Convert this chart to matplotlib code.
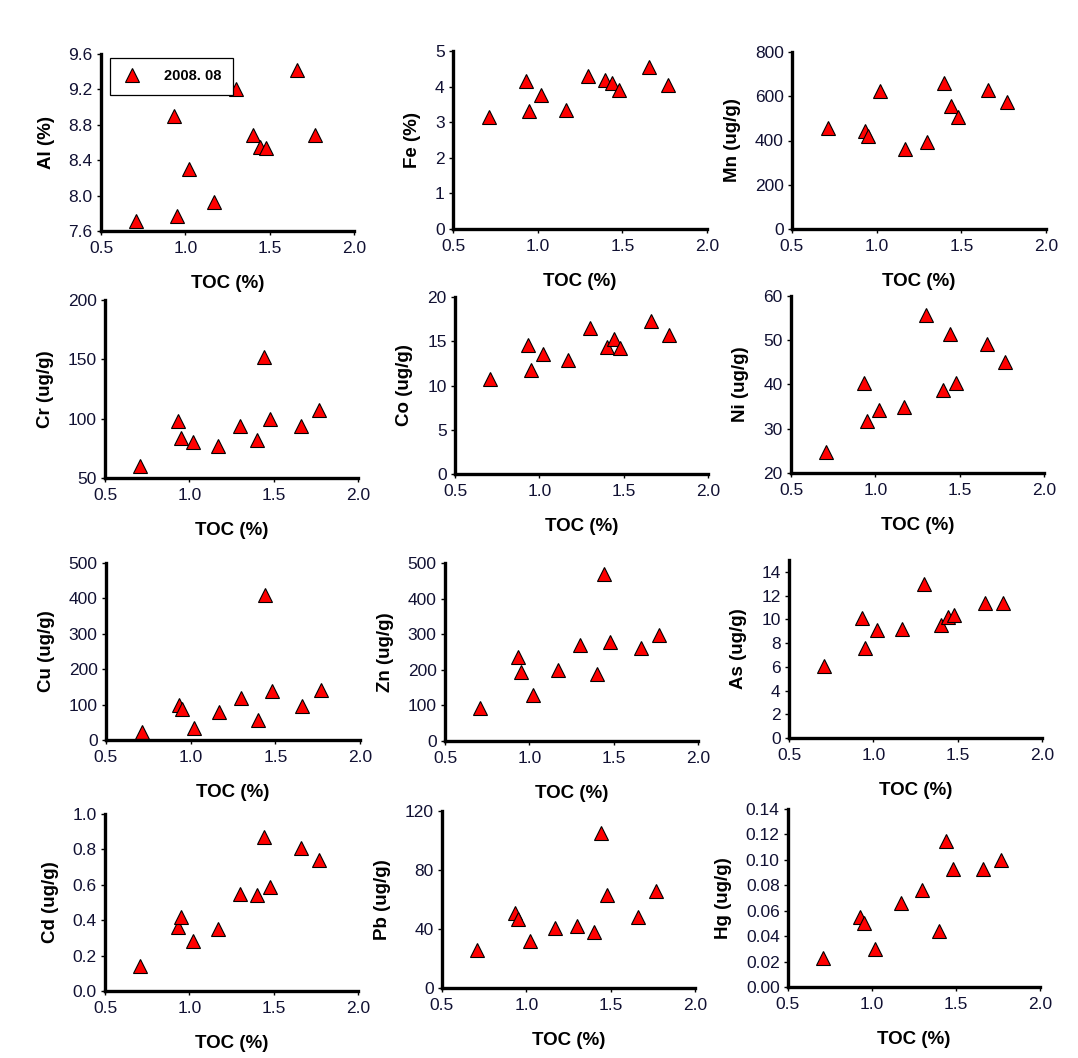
import matplotlib
matplotlib.use("Agg")
import matplotlib.pyplot as plt
from matplotlib.ticker import FormatStrFormatter

plt.rcParams['font.family'] = ['Liberation Sans', 'DejaVu Sans']

# --- DATA ---
toc = [0.71, 0.93, 0.95, 1.02, 1.17, 1.30, 1.40, 1.44, 1.48, 1.66, 1.77]

al = [7.71, 8.90, 7.77, 8.30, 7.93, 9.20, 8.69, 8.55, 8.54, 9.42, 8.69]
fe = [3.15, 4.15, 3.32, 3.75, 3.35, 4.30, 4.18, 4.10, 3.90, 4.55, 4.05]
mn = [455, 445, 420, 625, 360, 395, 660, 555, 505, 630, 575]
cr = [60, 98, 84, 80, 77, 94, 82, 152, 100, 94, 107]
co = [10.7, 14.6, 11.8, 13.6, 12.9, 16.5, 14.4, 15.2, 14.2, 17.3, 15.7]
ni = [24.8, 40.4, 31.7, 34.2, 34.9, 55.6, 38.8, 51.5, 40.4, 49.2, 45.1]
cu = [22, 98, 88, 35, 78, 118, 56, 410, 138, 95, 142]
zn = [92, 235, 195, 130, 200, 270, 188, 470, 278, 260, 298]
as_ = [6.1, 10.1, 7.6, 9.1, 9.2, 13.0, 9.5, 10.2, 10.4, 11.4, 11.4]
cd = [0.14, 0.36, 0.42, 0.28, 0.35, 0.55, 0.54, 0.87, 0.59, 0.81, 0.74]
pb = [26, 51, 47, 32, 41, 42, 38, 105, 63, 48, 66]
hg = [0.023, 0.055, 0.050, 0.030, 0.066, 0.076, 0.044, 0.115, 0.093, 0.093, 0.100]

x_ticks = [0.5, 1.0, 1.5, 2.0]

# (values, y label, ylim, y ticks, tick format)
panels = [
    (al, "Al (%)", (7.6, 9.6), [7.6, 8.0, 8.4, 8.8, 9.2, 9.6], "%.1f"),
    (fe, "Fe (%)", (0, 5), [0, 1, 2, 3, 4, 5], "%d"),
    (mn, "Mn (ug/g)", (0, 800), [0, 200, 400, 600, 800], "%d"),
    (cr, "Cr (ug/g)", (50, 200), [50, 100, 150, 200], "%d"),
    (co, "Co (ug/g)", (0, 20), [0, 5, 10, 15, 20], "%d"),
    (ni, "Ni (ug/g)", (20, 60), [20, 30, 40, 50, 60], "%d"),
    (cu, "Cu (ug/g)", (0, 500), [0, 100, 200, 300, 400, 500], "%d"),
    (zn, "Zn (ug/g)", (0, 500), [0, 100, 200, 300, 400, 500], "%d"),
    (as_, "As (ug/g)", (0, 15), [0, 2, 4, 6, 8, 10, 12, 14], "%d"),
    (cd, "Cd (ug/g)", (0, 1.0), [0.0, 0.2, 0.4, 0.6, 0.8, 1.0], "%.1f"),
    (pb, "Pb (ug/g)", (0, 120), [0, 40, 80, 120], "%d"),
    (hg, "Hg (ug/g)", (0, 0.14), [0.00, 0.02, 0.04, 0.06, 0.08, 0.10, 0.12, 0.14], "%.2f"),
]

# axes boxes in pixels: left, top, right, bottom
boxes = [
    (101, 54, 354, 231), (453, 51, 707, 229), (792, 52, 1046, 229),
    (105, 300, 358, 478), (455, 297, 708, 474), (791, 296, 1044, 473),
    (106, 563, 360, 740), (445, 563, 698, 741), (789, 560, 1042, 738),
    (105, 814, 358, 991), (442, 811, 695, 988), (788, 809, 1040, 987),
]

W, H = 1078, 1058
fig = plt.figure(figsize=(W / 100, H / 100), dpi=100)

for (vals, ylab, ylim, yt, fmt), (l, t, r, b) in zip(panels, boxes):
    ax = fig.add_axes([l / W, 1 - b / H, (r - l) / W, (b - t) / H])
    ax.plot(toc, vals, linestyle="none", marker="^", markersize=10,
            markerfacecolor="red", markeredgecolor="black",
            markeredgewidth=0.8, label="2008. 08", clip_on=False)
    ax.set_xlim(0.5, 2.0)
    ax.set_ylim(*ylim)
    ax.set_xticks(x_ticks)
    ax.set_yticks(yt)
    ax.xaxis.set_major_formatter(FormatStrFormatter("%.1f"))
    ax.yaxis.set_major_formatter(FormatStrFormatter(fmt))
    for s in ["top", "right"]:
        ax.spines[s].set_visible(False)
    for s in ["left", "bottom"]:
        ax.spines[s].set_linewidth(2.4)
    ax.tick_params(direction="out", length=3, width=1, labelsize=12.5,
                   labelcolor="#111133", pad=3)
    ax.tick_params(axis="x", pad=4)
    ax.set_xlabel("TOC (%)", fontsize=13.5, fontweight="bold", labelpad=14)
    ax.set_ylabel(ylab, fontsize=13.5, fontweight="bold", labelpad=10)
    if ylab == "Al (%)":
        leg = ax.legend(loc="upper left", bbox_to_anchor=(0.035, 0.98),
                        prop={"weight": "bold", "size": 10.5}, fancybox=False,
                        edgecolor="black", framealpha=1, borderpad=0.8,
                        handletextpad=1.4, handlelength=1.5, borderaxespad=0)
        leg.get_frame().set_linewidth(0.9)

fig.savefig("out.png", dpi=100)
